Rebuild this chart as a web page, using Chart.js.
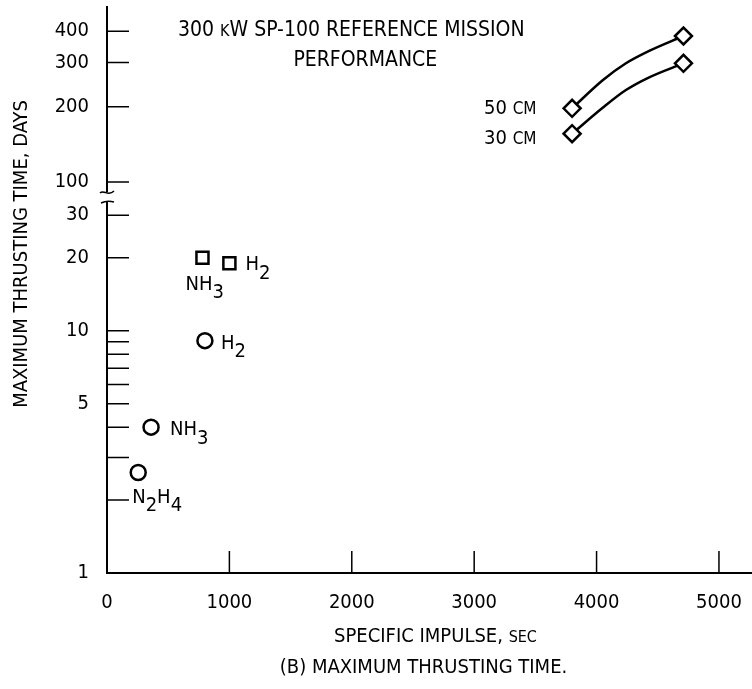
<!DOCTYPE html>
<html>
<head>
<meta charset="utf-8">
<script src="https://cdn.jsdelivr.net/npm/chart.js@4.4.0/dist/chart.umd.min.js"></script>
<style>
  html, body { margin: 0; padding: 0; background: #fff; }
  #wrap { width: 752px; height: 689px; }
</style>
</head>
<body>
<div id="wrap"><canvas id="chart"></canvas></div>
<script>
const FONT = "'DejaVu Sans Condensed', 'Liberation Sans Narrow', 'DejaVu Sans', sans-serif";

// chemical thrusters: specific impulse (sec) vs max thrusting time (days)
const squareIsp = [780, 1000];
const squareDays = [20, 19];
const squareNames = ['NH3', 'H2'];

const circleIsp = [800, 360, 255];
const circleDays = [9.1, 4.0, 2.6];
const circleNames = ['H2', 'NH3', 'N2H4'];

// ion thrusters, 50 cm and 30 cm
const ionIsp = [3800, 4710];
const ion50Days = [197, 383];
const ion30Days = [156, 298];

// points
const curveIsp = [3800, 4050, 4240, 4430, 4710];
const curve50Days = [197, 255, 298, 334, 383];
const curve30Days = [156, 198, 233, 262, 298];

// axes
const xTicks = [0, 1000, 2000, 3000, 4000, 5000];
const lowTicks = [1, 2, 3, 4, 5, 6, 7, 8, 9, 10, 20, 30];
const lowLabels = [1, 5, 10, 20, 30];
const highTicks = [100, 200, 300, 400];

const black = '#000';
const SIZE = 20;
const pairs = (xs, ys) => xs.map((x, i) => ({ x, y: ys[i] }));

// draws text where digits become subscripts (NH3, N2H4 ...)
function drawFormula(ctx, text, x, y, size) {
  let cx = x;
  ctx.font = `${size}px ${FONT}`;
  for (const ch of text) {
    const sub = /[0-9]/.test(ch);
    ctx.fillText(ch, cx, y + (sub ? size * 0.42 : 0));
    cx += ctx.measureText(ch).width;
  }
}

// draws a list of [text, scale] parts on one baseline (small caps)
function drawParts(ctx, parts, x, y, size) {
  let cx = x;
  ctx.textBaseline = 'alphabetic';
  for (const [t, s] of parts) {
    ctx.font = `${Math.round(size * s)}px ${FONT}`;
    ctx.fillText(t, cx, y + size * 0.36);
    cx += ctx.measureText(t).width;
  }
  ctx.textBaseline = 'middle';
  return cx - x;
}

function partsWidth(ctx, parts, size) {
  let w = 0;
  for (const [t, s] of parts) {
    ctx.font = `${Math.round(size * s)}px ${FONT}`;
    w += ctx.measureText(t).width;
  }
  return w;
}

const decorations = {
  id: 'decorations',
  afterDraw(chart) {
    const { ctx, chartArea, scales } = chart;
    const x = scales.x;
    ctx.save();
    ctx.strokeStyle = black;
    ctx.fillStyle = black;

    // inward tick marks
    ctx.lineWidth = 1.5;
    const tl = 22;
    ctx.beginPath();
    xTicks.forEach(v => {
      if (v === 0) return;
      const px = x.getPixelForValue(v);
      ctx.moveTo(px, chartArea.bottom);
      ctx.lineTo(px, chartArea.bottom - tl);
    });
    lowTicks.forEach(v => {
      if (v === 1) return;
      const py = scales.yLow.getPixelForValue(v);
      ctx.moveTo(chartArea.left, py);
      ctx.lineTo(chartArea.left + tl, py);
    });
    highTicks.forEach(v => {
      const py = scales.yHigh.getPixelForValue(v);
      ctx.moveTo(chartArea.left, py);
      ctx.lineTo(chartArea.left + tl, py);
    });
    ctx.stroke();

    // axis break
    const bx = chartArea.left;
    const by = scales.yLow.top;
    ctx.fillStyle = '#fff';
    ctx.fillRect(bx - 3, by - 4, 6, 9);
    ctx.fillStyle = black;
    ctx.lineWidth = 1.5;
    ctx.beginPath();
    ctx.moveTo(bx - 7, by - 3);
    ctx.bezierCurveTo(bx - 3, by - 7, bx + 1, by + 1, bx + 7, by - 5);
    ctx.stroke();
    ctx.beginPath();
    ctx.moveTo(bx - 6, by + 7);
    ctx.quadraticCurveTo(bx, by + 4, bx + 7, by + 6);
    ctx.stroke();

    // point labels
    ctx.textBaseline = 'middle';
    ctx.textAlign = 'left';
    const labelAt = (xv, yv, axis, text, dx, dy) => {
      const px = x.getPixelForValue(xv) + dx;
      const py = scales[axis].getPixelForValue(yv) + dy;
      drawFormula(ctx, text, px, py, SIZE);
    };
    labelAt(squareIsp[0], squareDays[0], 'yLow', squareNames[0], -17, 27);
    labelAt(squareIsp[1], squareDays[1], 'yLow', squareNames[1], 16, 2);
    labelAt(circleIsp[0], circleDays[0], 'yLow', circleNames[0], 16, 3);
    labelAt(circleIsp[1], circleDays[1], 'yLow', circleNames[1], 19, 3);
    labelAt(circleIsp[2], circleDays[2], 'yLow', circleNames[2], -6, 25);

    const ionLabel = (yv, text, dy) => {
      const px = x.getPixelForValue(ionIsp[0]) - 88;
      const py = scales.yHigh.getPixelForValue(yv) + dy;
      drawParts(ctx, [[text + ' ', 1], ['CM', 0.85]], px, py, SIZE);
    };
    ionLabel(ion50Days[0], '50', -2);
    ionLabel(ion30Days[0], '30', 3);

    // plot title
    const line1 = [['300 ', 1], ['K', 0.75], ['W SP-100 REFERENCE MISSION', 1]];
    const t1x = chartArea.left + 71;
    const w1 = drawParts(ctx, line1, t1x, chartArea.top + 21, 21);
    ctx.textAlign = 'center';
    ctx.font = `21px ${FONT}`;
    ctx.fillText('PERFORMANCE', t1x + w1 / 2 + 14, chartArea.top + 54);

    // x axis title and caption
    const mid = (chartArea.left + chartArea.right) / 2;
    ctx.textAlign = 'left';
    const xt = [['SPECIFIC IMPULSE, ', 1], ['SEC', 0.8]];
    drawParts(ctx, xt, mid + 6 - partsWidth(ctx, xt, SIZE) / 2, 635, SIZE);
    ctx.textAlign = 'center';
    ctx.font = `${SIZE}px ${FONT}`;
    ctx.fillText('(B) MAXIMUM THRUSTING TIME.', mid - 6, 668);

    // y axis title
    ctx.translate(22, 254);
    ctx.rotate(-Math.PI / 2);
    ctx.fillText('MAXIMUM THRUSTING TIME, DAYS', 0, 0);
    ctx.restore();
  }
};

const tickFont = { family: FONT, size: SIZE };
const noPadding = (s) => { s.paddingTop = 0; s.paddingBottom = 0; s.paddingLeft = 0; s.paddingRight = 0; };
const label = (v) => String(v);

new Chart(document.getElementById('chart'), {
  type: 'line',
  data: {
    datasets: [
      {
        label: '50 cm',
        data: pairs(ionIsp, ion50Days),
        yAxisID: 'yHigh',
        showLine: false,
        pointStyle: 'rectRot',
        pointRadius: 8.5,
        pointBorderWidth: 2.5,
        pointBorderColor: black,
        pointBackgroundColor: '#fff'
      },
      {
        label: '30 cm',
        data: pairs(ionIsp, ion30Days),
        yAxisID: 'yHigh',
        showLine: false,
        pointStyle: 'rectRot',
        pointRadius: 8.5,
        pointBorderWidth: 2.5,
        pointBorderColor: black,
        pointBackgroundColor: '#fff'
      },
      {
        label: '50 cm curve',
        data: pairs(curveIsp, curve50Days),
        yAxisID: 'yHigh',
        borderColor: black,
        borderWidth: 2.5,
        pointRadius: 0,
        cubicInterpolationMode: 'monotone'
      },
      {
        label: '30 cm curve',
        data: pairs(curveIsp, curve30Days),
        yAxisID: 'yHigh',
        borderColor: black,
        borderWidth: 2.5,
        pointRadius: 0,
        cubicInterpolationMode: 'monotone'
      },
      {
        label: 'squares',
        data: pairs(squareIsp, squareDays),
        yAxisID: 'yLow',
        showLine: false,
        pointStyle: 'rect',
        pointRadius: 8.5,
        pointBorderWidth: 2.5,
        pointBorderColor: black,
        pointBackgroundColor: '#fff'
      },
      {
        label: 'circles',
        data: pairs(circleIsp, circleDays),
        yAxisID: 'yLow',
        showLine: false,
        pointStyle: 'circle',
        pointRadius: 7.5,
        pointBorderWidth: 2.5,
        pointBorderColor: black,
        pointBackgroundColor: '#fff'
      }
    ]
  },
  options: {
    responsive: true,
    maintainAspectRatio: false,
    animation: false,
    events: [],
    layout: { autoPadding: false, padding: { top: 7, left: 0, right: 0, bottom: 0 } },
    plugins: {
      legend: { display: false },
      tooltip: { enabled: false }
    },
    scales: {
      x: {
        type: 'linear',
        min: 0,
        max: 5270,
        afterBuildTicks: (s) => { s.ticks = xTicks.map(v => ({ value: v })); },
        afterFit: (s) => { s.height = 116; noPadding(s); },
        grid: { display: false, drawTicks: false },
        border: { display: true, color: black, width: 2 },
        ticks: { color: black, font: tickFont, padding: 18, autoSkip: false, maxRotation: 0, callback: label }
      },
      yLow: {
        type: 'logarithmic',
        position: 'left',
        stack: 'y',
        stackWeight: 377,
        weight: 0,
        min: 1,
        max: 36,
        afterBuildTicks: (s) => { s.ticks = lowTicks.map(v => ({ value: v })); },
        afterFit: (s) => { s.width = 107; noPadding(s); },
        grid: { display: false, drawTicks: false },
        border: { display: true, color: black, width: 2 },
        ticks: {
          color: black,
          font: tickFont,
          padding: 18,
          autoSkip: false,
          callback: (v) => lowLabels.includes(v) ? String(v) : ''
        }
      },
      yHigh: {
        type: 'logarithmic',
        position: 'left',
        stack: 'y',
        stackWeight: 189,
        weight: 1,
        min: 88,
        max: 500,
        afterBuildTicks: (s) => { s.ticks = highTicks.map(v => ({ value: v })); },
        afterFit: (s) => { s.width = 107; noPadding(s); },
        grid: { display: false, drawTicks: false },
        border: { display: true, color: black, width: 2 },
        ticks: { color: black, font: tickFont, padding: 18, autoSkip: false, callback: label }
      }
    }
  },
  plugins: [decorations]
});
</script>
</body>
</html>
